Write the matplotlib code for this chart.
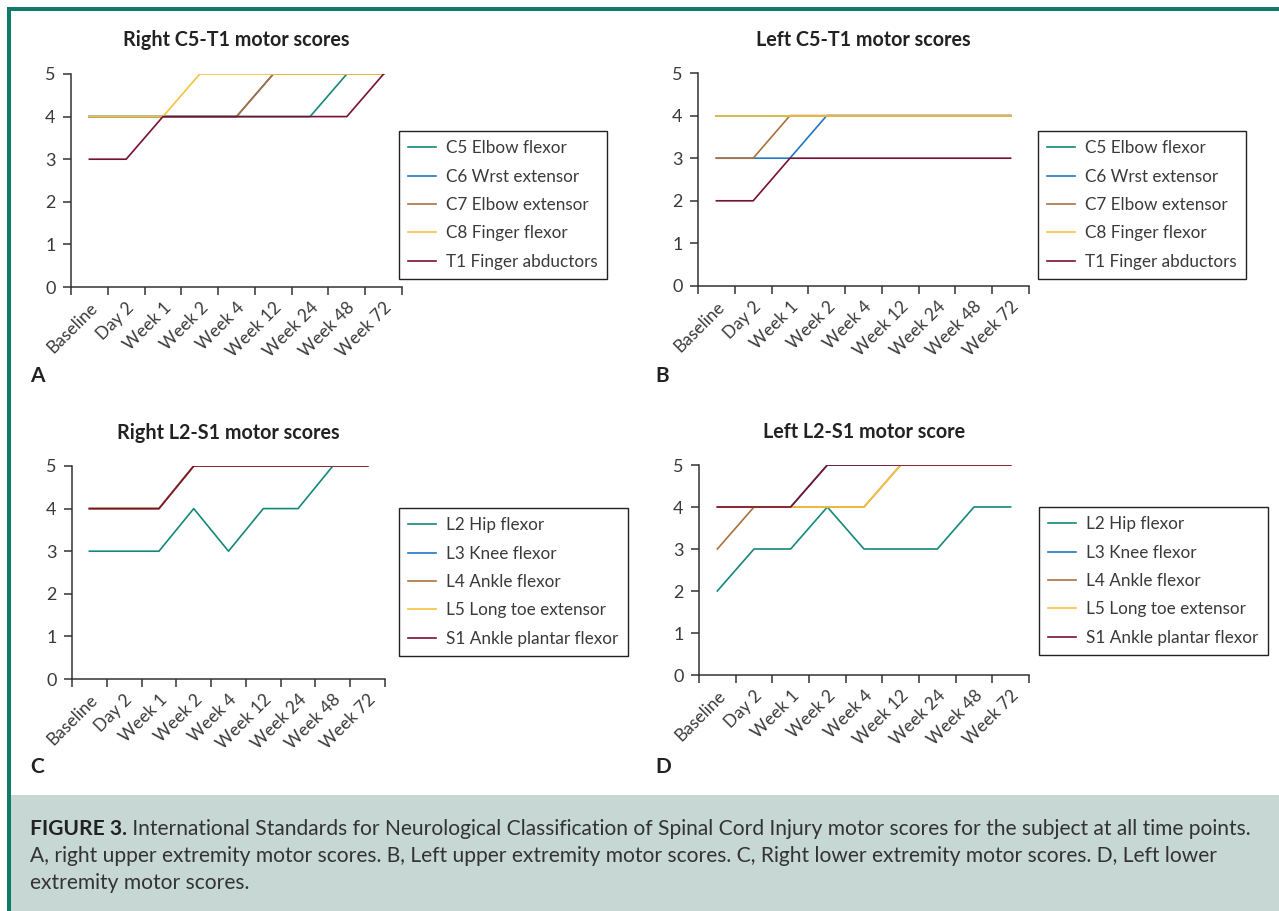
import matplotlib
matplotlib.use("Agg")
import matplotlib.pyplot as plt
from matplotlib.patches import Rectangle

plt.rcParams['font.family'] = ['Lato', 'DejaVu Sans']

timepoints = ['Baseline', 'Day 2', 'Week 1', 'Week 2', 'Week 4', 'Week 12', 'Week 24', 'Week 48', 'Week 72']

# panel A - right upper extremity
upper_names = ['C5 Elbow flexor', 'C6 Wrst extensor', 'C7 Elbow extensor', 'C8 Finger flexor', 'T1 Finger abductors']
right_c5 = [4, 4, 4, 4, 4, 4, 4, 5, 5]
right_c6 = [4, 4, 4, 4, 4, 5, 5, 5, 5]
right_c7 = [4, 4, 4, 4, 4, 5, 5, 5, 5]
right_c8 = [4, 4, 4, 5, 5, 5, 5, 5, 5]
right_t1 = [3, 3, 4, 4, 4, 4, 4, 4, 5]

# panel B - left upper extremity
left_c5 = [4, 4, 4, 4, 4, 4, 4, 4, 4]
left_c6 = [3, 3, 3, 4, 4, 4, 4, 4, 4]
left_c7 = [3, 3, 4, 4, 4, 4, 4, 4, 4]
left_c8 = [4, 4, 4, 4, 4, 4, 4, 4, 4]
left_t1 = [2, 2, 3, 3, 3, 3, 3, 3, 3]

# panel C - right lower extremity
lower_names = ['L2 Hip flexor', 'L3 Knee flexor', 'L4 Ankle flexor', 'L5 Long toe extensor', 'S1 Ankle plantar flexor']
right_l2 = [3, 3, 3, 4, 3, 4, 4, 5, 5]
right_l3 = [4, 4, 4, 5, 5, 5, 5, 5, 5]
right_l4 = [4, 4, 4, 5, 5, 5, 5, 5, 5]
right_l5 = [4, 4, 4, 5, 5, 5, 5, 5, 5]
right_s1 = [4, 4, 4, 5, 5, 5, 5, 5, 5]

# panel D - left lower extremity
left_l2 = [2, 3, 3, 4, 3, 3, 3, 4, 4]
left_l3 = [4, 4, 4, 5, 5, 5, 5, 5, 5]
left_l4 = [3, 4, 4, 4, 4, 5, 5, 5, 5]
left_l5 = [4, 4, 4, 4, 4, 5, 5, 5, 5]
left_s1 = [4, 4, 4, 5, 5, 5, 5, 5, 5]

colors = ['#13897a', '#1f78c6', '#ab713c', '#f6c33f', '#7a1031']
W, H = 1279, 911
teal_frame = '#0e7b68'

fig = plt.figure(figsize=(W / 100, H / 100), dpi=100)


def px(x0, y_top, x1, y_bot):
    return [x0 / W, 1 - y_bot / H, (x1 - x0) / W, (y_bot - y_top) / H]


def panel(rect, title, title_y, series, names, legend_xy, letter, letter_xy):
    ax = fig.add_axes(px(*rect))
    xs = range(len(timepoints))
    for vals, name, c in zip(series, names, colors):
        ax.plot(xs, vals, color=c, lw=1.2, label=name)
    ax.set_xlim(-0.5, len(timepoints) - 0.5)
    ax.set_ylim(0, 5)
    ax.set_yticks(range(6))
    ax.set_yticklabels(['0', '1', '2', '3', '4', '5'])
    ax.set_xticks(list(xs))
    ax.set_xticklabels(timepoints, rotation=45, ha='right', rotation_mode='anchor')
    ax.set_xticks([i - 0.5 for i in range(len(timepoints) + 1)], minor=True)
    ax.tick_params(axis='x', which='major', length=0, pad=9, labelsize=12.5, labelcolor='#3a3a3a')
    ax.tick_params(axis='x', which='minor', length=6, width=1.1, color='#333333', direction='out')
    ax.tick_params(axis='y', length=6, width=1.1, color='#333333', pad=5, labelsize=13, labelcolor='#3a3a3a')
    for s in ['top', 'right']:
        ax.spines[s].set_visible(False)
    for s in ['left', 'bottom']:
        ax.spines[s].set_color('#333333')
        ax.spines[s].set_linewidth(1.1)
    leg = ax.legend(loc='upper left', bbox_to_anchor=(legend_xy[0] / W, 1 - legend_xy[1] / H),
                    bbox_transform=fig.transFigure, fancybox=False, framealpha=1,
                    edgecolor='#222222', fontsize=12.3, handlelength=1.6, handletextpad=0.6,
                    labelspacing=0.72, borderpad=0.55, borderaxespad=0, labelcolor='#3a3a3a')
    leg.get_frame().set_linewidth(1.0)
    cx = (rect[0] + rect[2]) / 2
    fig.text(cx / W, 1 - title_y / H, title, ha='center', va='center', fontsize=14.2,
             fontweight='bold', color='#222222')
    fig.text(letter_xy[0] / W, 1 - letter_xy[1] / H, letter, ha='left', va='center',
             fontsize=15, fontweight='bold', color='#222222')
    return ax


panel((71, 74, 402, 287), 'Right C5-T1 motor scores', 40,
      [right_c5, right_c6, right_c7, right_c8, right_t1], upper_names, (399, 131), 'A', (30, 376))
panel((698, 73, 1029, 286), 'Left C5-T1 motor scores', 40,
      [left_c5, left_c6, left_c7, left_c8, left_t1], upper_names, (1038, 131), 'B', (655, 376))
panel((72, 466, 385, 679), 'Right L2-S1 motor scores', 433,
      [right_l2, right_l3, right_l4, right_l5, right_s1], lower_names, (399, 508), 'C', (30, 767))
panel((699, 465, 1029, 675), 'Left L2-S1 motor score', 432,
      [left_l2, left_l3, left_l4, left_l5, left_s1], lower_names, (1039, 507), 'D', (655, 767))

# frame and caption box
fig.patches.append(Rectangle((11 / W, 0), 1 - 11 / W, 116 / H, transform=fig.transFigure,
                             facecolor='#c6d7d4', edgecolor='none', zorder=0))
fig.patches.append(Rectangle((7 / W, 1 - 11 / H), 1 - 7 / W, 4 / H, transform=fig.transFigure,
                             facecolor=teal_frame, edgecolor='none'))
fig.patches.append(Rectangle((7 / W, 0), 4 / W, 1 - 7 / H, transform=fig.transFigure,
                             facecolor=teal_frame, edgecolor='none'))

cap_size = 15.1
renderer = fig.canvas.get_renderer()
bold = fig.text(30 / W, 1 - 829 / H, 'FIGURE 3.', fontsize=cap_size, fontweight='bold',
                va='center', ha='left', color='#222222')
bb = bold.get_window_extent(renderer)
fig.text(bb.x1 / W, 1 - 829 / H,
         ' International Standards for Neurological Classification of Spinal Cord Injury motor scores for the subject at all time points.',
         fontsize=cap_size, va='center', ha='left', color='#333333')
fig.text(30 / W, 1 - 856 / H,
         'A, right upper extremity motor scores. B, Left upper extremity motor scores. C, Right lower extremity motor scores. D, Left lower',
         fontsize=cap_size, va='center', ha='left', color='#333333')
fig.text(30 / W, 1 - 883 / H, 'extremity motor scores.', fontsize=cap_size, va='center', ha='left',
         color='#333333')

fig.savefig('out.png', dpi=100)
